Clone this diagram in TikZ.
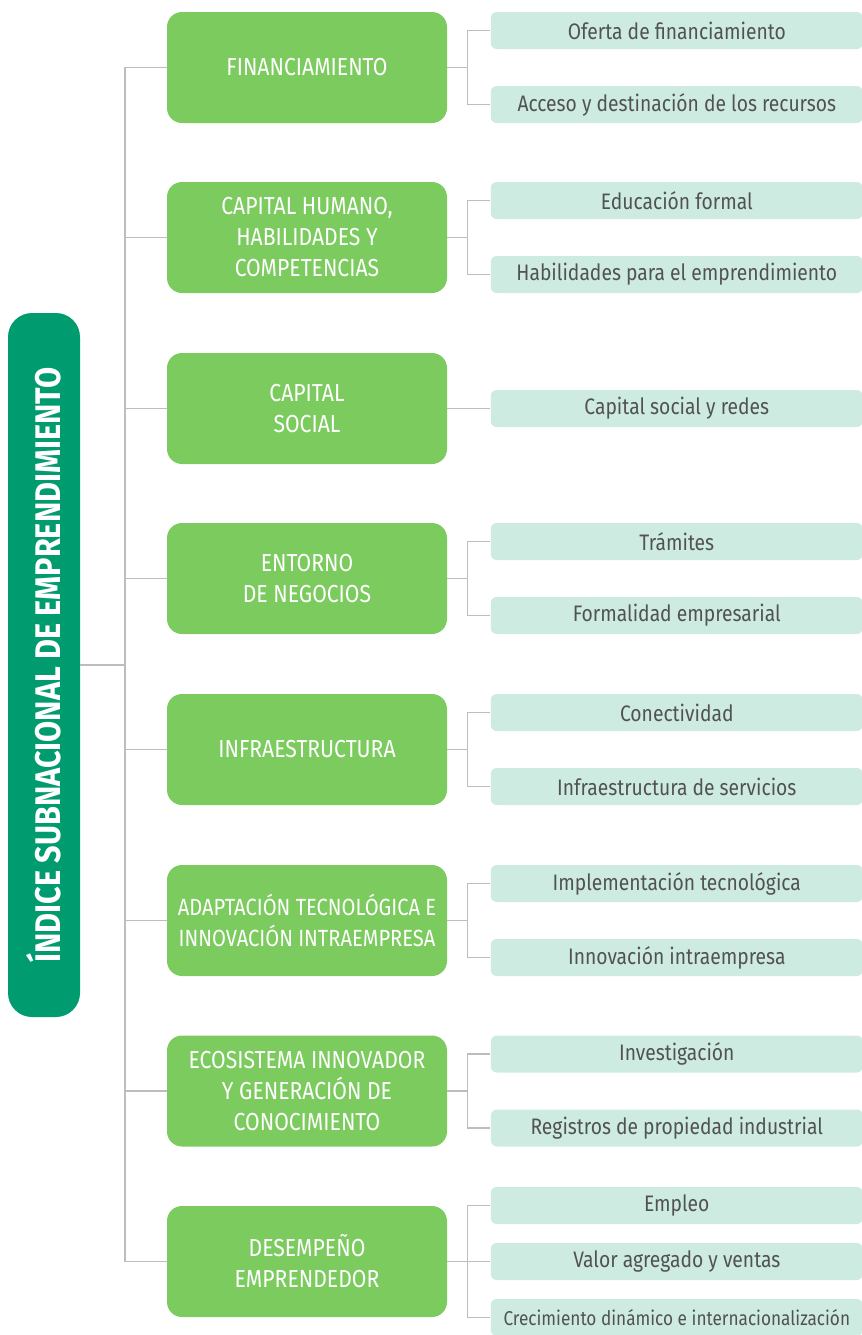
\documentclass[tikz,border=0pt]{standalone}
\usepackage{fontspec}
\setmainfont{Fira Sans}[FakeStretch=0.86]
\usetikzlibrary{positioning}
\definecolor{raiz}{HTML}{009C6F}
\definecolor{pilar}{HTML}{7CCB5F}
\definecolor{subfondo}{HTML}{CDEBE1}
\definecolor{subtexto}{HTML}{525254}
\definecolor{linea}{HTML}{BDBDBD}
\begin{document}
\begin{tikzpicture}[x=0.5pt,y=-0.5pt,
  raizbox/.style={fill=raiz,rounded corners=12pt,minimum width=352pt,minimum height=36pt,text=white,inner sep=0pt,font=\fontsize{17.8}{20}\selectfont\bfseries},
  pilarbox/.style={fill=pilar,rounded corners=7.5pt,minimum width=140pt,minimum height=55.5pt,text=white,align=center,inner sep=0pt,font=\fontsize{12.3}{15.5}\selectfont},
  subbox/.style={fill=subfondo,rounded corners=3pt,minimum width=186pt,minimum height=18.5pt,text=subtexto,inner sep=0pt,font=\fontsize{11.2}{13}\selectfont},
  conn/.style={draw=linea,line width=0.75pt}]
\useasboundingbox (0,0) rectangle (862,1335);
\node[raizbox,rotate=90] (raiz) at (44,665) {ÍNDICE SUBNACIONAL DE EMPRENDIMIENTO};
\coordinate (tronco) at (125,665);
\node[pilarbox] (cat1) at (307,67.5) {FINANCIAMIENTO};
\node[pilarbox] (cat2) at (307,237.5) {CAPITAL HUMANO,\\HABILIDADES Y\\COMPETENCIAS};
\node[pilarbox] (cat3) at (307,408.5) {CAPITAL\\SOCIAL};
\node[pilarbox] (cat4) at (307,578.5) {ENTORNO\\DE NEGOCIOS};
\node[pilarbox] (cat5) at (307,749.5) {INFRAESTRUCTURA};
\node[pilarbox,font=\fontsize{11.7}{15.5}\selectfont] (cat6) at (307,920.5) {ADAPTACIÓN TECNOLÓGICA E\\INNOVACIÓN INTRAEMPRESA};
\node[pilarbox] (cat7) at (307,1091) {ECOSISTEMA INNOVADOR\\Y GENERACIÓN DE\\CONOCIMIENTO};
\node[pilarbox] (cat8) at (307,1261.5) {DESEMPEÑO\\EMPRENDEDOR};
\node[subbox,right=21.5pt of cat1.east,yshift=18.5pt] (s1a) {Oferta de financiamiento};
\node[subbox,right=21.5pt of cat1.east,yshift=-18.5pt] (s1b) {Acceso y destinación de los recursos};
\node[subbox,right=21.5pt of cat2.east,yshift=18.5pt] (s2a) {Educación formal};
\node[subbox,right=21.5pt of cat2.east,yshift=-18.5pt] (s2b) {Habilidades para el emprendimiento};
\node[subbox,right=21.5pt of cat3.east] (s3a) {Capital social y redes};
\node[subbox,right=21.5pt of cat4.east,yshift=18.5pt] (s4a) {Trámites};
\node[subbox,right=21.5pt of cat4.east,yshift=-18.5pt] (s4b) {Formalidad empresarial};
\node[subbox,right=21.5pt of cat5.east,yshift=18.5pt] (s5a) {Conectividad};
\node[subbox,right=21.5pt of cat5.east,yshift=-18.5pt] (s5b) {Infraestructura de servicios};
\node[subbox,right=21.5pt of cat6.east,yshift=18.5pt] (s6a) {Implementación tecnológica};
\node[subbox,right=21.5pt of cat6.east,yshift=-18.5pt] (s6b) {Innovación intraempresa};
\node[subbox,right=21.5pt of cat7.east,yshift=18.5pt] (s7a) {Investigación};
\node[subbox,right=21.5pt of cat7.east,yshift=-18.5pt] (s7b) {Registros de propiedad industrial};
\node[subbox,right=21.5pt of cat8.east,yshift=28pt] (s8a) {Empleo};
\node[subbox,right=21.5pt of cat8.east] (s8b) {Valor agregado y ventas};
\node[subbox,right=21.5pt of cat8.east,yshift=-28pt,font=\fontsize{10}{12}\selectfont] (s8c) {Crecimiento dinámico e internacionalización};
\draw[conn] (raiz.south) -- (tronco);
\foreach \i in {1,...,8}
\draw[conn] (tronco) |- (cat\i.west);
\foreach \c/\s in {1/s1a,1/s1b,2/s2a,2/s2b,3/s3a,4/s4a,4/s4b,5/s5a,5/s5b,6/s6a,6/s6b,7/s7a,7/s7b,8/s8a,8/s8b,8/s8c}
\draw[conn] (cat\c.east) -- ([xshift=10pt]cat\c.east) |- (\s.west);
\end{tikzpicture}
\end{document}
